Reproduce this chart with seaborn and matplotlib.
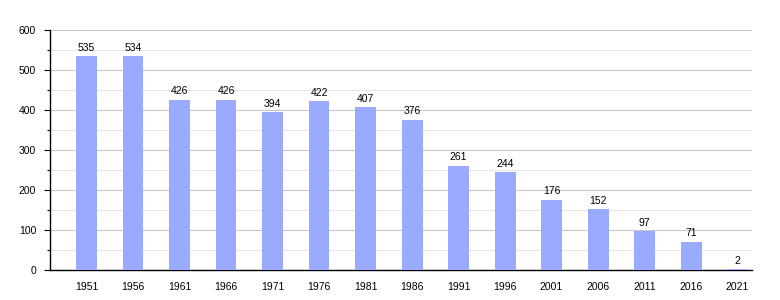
import matplotlib
matplotlib.use("Agg")
import matplotlib.pyplot as plt
import seaborn as sns
import pandas as pd
from matplotlib.ticker import MultipleLocator

years = ["1951", "1956", "1961", "1966", "1971", "1976", "1981", "1986",
         "1991", "1996", "2001", "2006", "2011", "2016", "2021"]
population = [535, 534, 426, 426, 394, 422, 407, 376, 261, 244, 176, 152, 97, 71, 2]

df = pd.DataFrame({"year": years, "pop": population})

sns.set_theme(style="white")
plt.rcParams["font.family"] = ["Liberation Sans", "DejaVu Sans"]

fig = plt.figure(figsize=(7.8, 3.0), dpi=100)
ax = fig.add_axes([50/780, 30/300, 702/780, 240/300])

sns.barplot(data=df, x="year", y="pop", color="#99aaff", width=0.45,
            saturation=1, ax=ax, zorder=3, linewidth=0, edgecolor="none")

ax.set_xlim(-0.785, 14.31)
ax.set_ylim(0, 600)
ax.yaxis.set_major_locator(MultipleLocator(100))
ax.yaxis.set_minor_locator(MultipleLocator(50))
ax.grid(axis="y", which="major", color="#c8c8c8", linewidth=0.8, zorder=0)
ax.grid(axis="y", which="minor", color="#e6e6e6", linewidth=0.8, zorder=0)
ax.set_axisbelow(True)

for side in ["top", "right"]:
    ax.spines[side].set_visible(False)
for side in ["left", "bottom"]:
    ax.spines[side].set_color("black")
    ax.spines[side].set_linewidth(1.0)

ax.tick_params(axis="y", which="major", left=True, length=4, width=0.8,
               color="black", labelsize=7.5, pad=6, labelcolor="black")
ax.tick_params(axis="y", which="minor", left=True, length=2, width=0.8, color="black")
ax.tick_params(axis="x", bottom=False, labelsize=7.5, pad=3, labelcolor="black")

for i, v in enumerate(population):
    ax.text(i, v + 8, str(v), ha="center", va="bottom", fontsize=7.5, color="black")

ax.set_xlabel("")
ax.set_ylabel("")

fig.savefig("out.png", dpi=100)
